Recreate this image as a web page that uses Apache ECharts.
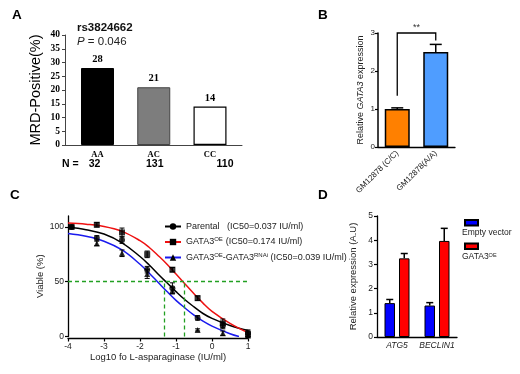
<!DOCTYPE html>
<html>
<head>
<meta charset="utf-8">
<script src="https://cdn.jsdelivr.net/npm/echarts@6/dist/echarts.min.js"></script>
<style>
html, body { margin: 0; padding: 0; background: #fff; }
#fig { width: 520px; height: 374px; }
</style>
</head>
<body>
<div id="fig"></div>
<script>
// A - MRD positive rate per rs3824662 genotype
var genotypes = ['AA', 'AC', 'CC'];
var genotypeN = ['32', '131', '110'];
var mrdPositive = [28, 21, 14];

// B - GATA3 expression in GM12878
var cellLines = ['GM12878 (C/C)', 'GM12878(A/A)'];
var gata3Expr = [1.0, 2.5];
var gata3Err = [0.03, 0.2];
var bracketY = [1.35, 3.0, 2.8]; // left foot, top, right foot

// C - viability vs log10 L-asparaginase
var doseX = [-3.9, -3.2, -2.5, -1.8, -1.1, -0.4, 0.3, 1.0];
var parentalPts = [100, 90, 88, 61, 44, 17, 10, 3];
var parentalErr = [1, 2, 3, 3, 5, 2, 3, 3];
var oePts = [100, 102, 95, 75, 61, 35, 12, 2];
var oeErr = [1, 2, 4, 3, 2, 2, 4, 3];
var rnaiPts = [null, 85, 76, 57, 42, 6, 3, 1];
var rnaiErr = [0, 2, 3, 4, 3, 1, 2, 1];

var fitX = [-4, -3.5, -3, -2.5, -2, -1.75, -1.5, -1.25, -1, -0.75, -0.5, -0.25, 0, 0.5, 1];
var parentalFit = [100, 97.5, 93.5, 85.5, 73, 65.5, 57, 49, 41, 33.5, 27, 21, 16.5, 10, 5.5];
var oeFit = [103.5, 102.5, 100.5, 96, 87.5, 81.5, 74, 66, 57, 48, 39, 30.5, 23, 12, 3.5];
var rnaiFitX = [-4, -3.5, -3, -2.5, -2, -1.75, -1.5, -1.25, -1, -0.75, -0.5, -0.25, 0, 0.5, 0.75];
var rnaiFit = [94, 91.5, 87, 79, 66, 58, 49.5, 41, 33, 26, 19.5, 14, 9.5, 2.5, 0];
var ic50X = [-1.33, -0.78];
var cTicks = [0, 50, 100];

// D - autophagy genes
var genes = ['ATG5', 'BECLIN1'];
var emptyVec = [1.4, 1.3];
var emptyErr = [0.15, 0.12];
var gata3OE = [3.25, 3.97];
var gata3OEErr = [0.2, 0.52];

var SANS = '"Liberation Sans", Arial, sans-serif';
var SERIF = '"Liberation Serif", "Times New Roman", serif';

function pairs(xs, ys, es) {
  var out = [];
  for (var i = 0; i < xs.length; i++) {
    if (ys[i] == null) continue;
    out.push(es ? [xs[i], ys[i], es[i]] : [xs[i], ys[i]]);
  }
  return out;
}

// error bar both ways, for the dose points
function renderDoseErr(params, api) {
  var x = api.value(0), y = api.value(1), e = api.value(2);
  var hi = api.coord([x, y + e]), lo = api.coord([x, y - e]);
  var cap = 2.5, st = {stroke: '#000', lineWidth: 1};
  return {type: 'group', children: [
    {type: 'line', shape: {x1: hi[0], y1: hi[1], x2: lo[0], y2: lo[1]}, style: st},
    {type: 'line', shape: {x1: hi[0] - cap, y1: hi[1], x2: hi[0] + cap, y2: hi[1]}, style: st},
    {type: 'line', shape: {x1: lo[0] - cap, y1: lo[1], x2: lo[0] + cap, y2: lo[1]}, style: st}
  ]};
}

// upper error bar only (prism style)
function barErr(dx, cap) {
  return function (params, api) {
    var i = api.value(0), v = api.value(1), e = api.value(2);
    var base = api.coord([i, v]), hi = api.coord([i, v + e]);
    var x = base[0] + dx;
    var st = {stroke: '#000', lineWidth: 1.5};
    return {type: 'group', children: [
      {type: 'line', shape: {x1: x, y1: base[1], x2: x, y2: hi[1]}, style: st},
      {type: 'line', shape: {x1: x - cap, y1: hi[1], x2: x + cap, y2: hi[1]}, style: st}
    ]};
  };
}

function renderBracket(params, api) {
  var p0 = api.coord([0, api.value(1)]), p1 = api.coord([0, api.value(2)]);
  var p2 = api.coord([1, api.value(2)]), p3 = api.coord([1, api.value(3)]);
  return {type: 'group', children: [
    {type: 'polyline', shape: {points: [p0, p1, p2, p3]}, style: {stroke: '#000', lineWidth: 1.3, fill: null}},
    {type: 'text', x: (p1[0] + p2[0]) / 2, y: p1[1] - 1,
      style: {text: '**', textAlign: 'center', textVerticalAlign: 'bottom', fontSize: 9, fontFamily: SANS, fill: '#333'}}
  ]};
}

var barColorsA = [
  {color: '#000', borderColor: '#000', borderWidth: 1},
  {color: '#7d7d7d', borderColor: '#444', borderWidth: 1},
  {color: '#fff', borderColor: '#000', borderWidth: 1.2}
];
var barColorsB = ['#ff8000', '#4f9dff'];

var BAR_W_D = 10.5, GAP_D = 4;
var offD = (BAR_W_D + GAP_D) / 2;

function richStyle(extra) {
  var s = {fontFamily: SANS, fontSize: 9, color: '#000'};
  for (var k in extra) s[k] = extra[k];
  return s;
}

var legendLabelsC = {
  'Parental': '{t|Parental}{v|(IC50=0.037 IU/ml)}',
  'GATA3OE': '{b|GATA3}{sup|OE}{gp|}{b|(IC50=0.174 IU/ml)}',
  'GATA3OE-GATA3RNAi': '{b|GATA3}{sup|OE}{b|-GATA3}{sup|RNAi}{b| (IC50=0.039 IU/ml)}'
};

var axisBlack = {onZero: false, lineStyle: {color: '#000', width: 1.3}};

var option = {
  animation: false,
  textStyle: {fontFamily: SANS},
  grid: [
    {left: 65, top: 35, width: 177, height: 110},
    {left: 378, top: 33, width: 77, height: 114},
    {left: 68, top: 216, width: 180, height: 120.5},
    {left: 377, top: 216, width: 80, height: 121}
  ],
  xAxis: [
    {
      gridIndex: 0, type: 'value', min: -0.578, max: 2.569,
      axisLine: {onZero: false, lineStyle: {color: '#444', width: 1}},
      axisTick: {show: false}, splitLine: {show: false},
      axisLabel: {
        customValues: [0, 1, 2], margin: 6,
        formatter: function (v) {
          var i = Math.round(v);
          return '{g|' + genotypes[i] + '}\n{n' + i + '|' + genotypeN[i] + '}';
        },
        rich: {
          g: {fontFamily: SERIF, fontWeight: 'bold', fontSize: 8.5, lineHeight: 8, color: '#000'},
          n0: {fontFamily: SANS, fontWeight: 'bold', fontSize: 10.5, lineHeight: 11, color: '#000', padding: [0, 6, 0, 0]},
          n1: {fontFamily: SANS, fontWeight: 'bold', fontSize: 10.5, lineHeight: 11, color: '#000', padding: [0, 0, 0, 2]},
          n2: {fontFamily: SANS, fontWeight: 'bold', fontSize: 10.5, lineHeight: 11, color: '#000', padding: [0, 0, 0, 30]}
        }
      }
    },
    {
      gridIndex: 1, type: 'category', data: cellLines,
      axisLine: axisBlack,
      axisTick: {alignWithLabel: true, length: 3, lineStyle: {color: '#000', width: 1.2}},
      axisLabel: {rotate: 45, interval: 0, fontSize: 8, color: '#222', margin: 5}
    },
    {
      gridIndex: 2, type: 'value', min: -4, max: 1, interval: 1, offset: 2,
      axisLine: axisBlack, splitLine: {show: false},
      axisTick: {length: 3, lineStyle: {color: '#000', width: 1.2}},
      axisLabel: {fontSize: 8.5, color: '#222', margin: 4},
      name: 'Log10 fo L-asparaginase (IU/ml)', nameLocation: 'middle', nameGap: 14,
      nameTextStyle: {fontSize: 9.5, color: '#222', fontFamily: SANS}
    },
    {
      gridIndex: 3, type: 'category', data: genes,
      axisLine: axisBlack, axisTick: {show: false},
      axisLabel: {interval: 0, fontSize: 8.5, fontStyle: 'italic', color: '#222', margin: 4}
    }
  ],
  yAxis: [
    {
      gridIndex: 0, type: 'value', min: 0, max: 40, interval: 5,
      axisLine: {show: true, onZero: false, lineStyle: {color: '#444', width: 1}},
      axisTick: {show: true, length: 3, lineStyle: {color: '#444'}},
      splitLine: {show: false},
      axisLabel: {fontFamily: SERIF, fontWeight: 'bold', fontSize: 9.5, color: '#000', margin: 5},
      name: 'MRD-Positive(%)', nameLocation: 'middle', nameGap: 22,
      nameTextStyle: {fontSize: 14.5, color: '#000', fontFamily: SANS}
    },
    {
      gridIndex: 1, type: 'value', min: 0, max: 3, interval: 1,
      axisLine: {show: true, onZero: false, lineStyle: {color: '#000', width: 1.5}},
      axisTick: {show: true, length: 3, lineStyle: {color: '#000', width: 1.2}},
      splitLine: {show: false},
      axisLabel: {fontSize: 8, color: '#222', margin: 3},
      name: 'Relative {i|GATA3} expression', nameLocation: 'middle', nameGap: 13,
      nameTextStyle: {fontSize: 9, color: '#222', fontFamily: SANS,
        rich: {i: richStyle({fontStyle: 'italic', color: '#222'})}}
    },
    {
      gridIndex: 2, type: 'value', min: 0, max: 110,
      axisLine: {show: true, onZero: false, lineStyle: {color: '#000', width: 1.3}},
      axisTick: {show: true, length: 3, customValues: cTicks, lineStyle: {color: '#000', width: 1.2}},
      splitLine: {show: false},
      axisLabel: {fontSize: 8.5, color: '#222', margin: 4, customValues: cTicks},
      name: 'Viable (%)', nameLocation: 'middle', nameGap: 23,
      nameTextStyle: {fontSize: 9.5, color: '#222', fontFamily: SANS}
    },
    {
      gridIndex: 3, type: 'value', min: 0, max: 5, interval: 1,
      axisLine: {show: true, onZero: false, lineStyle: {color: '#000', width: 1.3}},
      axisTick: {show: true, length: 3, lineStyle: {color: '#000', width: 1.2}},
      splitLine: {show: false},
      axisLabel: {fontSize: 8.5, color: '#222', margin: 4},
      name: 'Relative expression (A.U)', nameLocation: 'middle', nameGap: 19,
      nameTextStyle: {fontSize: 9.5, color: '#222', fontFamily: SANS}
    }
  ],
  legend: [
    {
      data: ['Parental', 'GATA3OE', 'GATA3OE-GATA3RNAi'],
      orient: 'vertical', left: 164, top: 221, padding: 0,
      itemWidth: 16, itemHeight: 8, itemGap: 4.5,
      selectedMode: false,
      itemStyle: {color: '#000', borderWidth: 0},
      formatter: function (name) { return legendLabelsC[name]; },
      textStyle: {
        fontFamily: SANS, fontSize: 9, color: '#222', lineHeight: 11,
        rich: {
          t: richStyle({width: 41, color: '#222'}),
          v: richStyle({color: '#222'}),
          b: richStyle({color: '#222'}),
          gp: richStyle({width: 3}),
          sup: richStyle({fontSize: 6, verticalAlign: 'top', lineHeight: 7, color: '#222'})
        }
      }
    },
    {
      data: ['Empty vector'], left: 464, top: 219, padding: 0, icon: 'rect',
      itemWidth: 13, itemHeight: 5.5, selectedMode: false,
      formatter: function () { return ''; }
    },
    {
      data: ['GATA3OE overexpression'], left: 464, top: 242.5, padding: 0, icon: 'rect',
      itemWidth: 13, itemHeight: 5.5, selectedMode: false,
      formatter: function () { return ''; }
    }
  ],
  graphic: [
    {type: 'text', x: 12, y: 15.5, style: {text: 'A', fontSize: 13.5, fontWeight: 'bold', fontFamily: SANS, fill: '#000', textVerticalAlign: 'middle'}},
    {type: 'text', x: 318, y: 15, style: {text: 'B', fontSize: 13.5, fontWeight: 'bold', fontFamily: SANS, fill: '#000', textVerticalAlign: 'middle'}},
    {type: 'text', x: 10, y: 195.5, style: {text: 'C', fontSize: 13.5, fontWeight: 'bold', fontFamily: SANS, fill: '#000', textVerticalAlign: 'middle'}},
    {type: 'text', x: 318, y: 195.5, style: {text: 'D', fontSize: 13.5, fontWeight: 'bold', fontFamily: SANS, fill: '#000', textVerticalAlign: 'middle'}},
    {type: 'text', x: 77, y: 27.5, style: {text: 'rs3824662', fontSize: 11.5, fontWeight: 'bold', fontFamily: SANS, fill: '#111', textVerticalAlign: 'middle'}},
    {type: 'text', x: 77, y: 41.5, style: {
      text: '{i|P} = 0.046', fontSize: 11.5, fontFamily: SANS, fill: '#222', textVerticalAlign: 'middle',
      rich: {i: {fontStyle: 'italic', fontSize: 11.5, fontFamily: SANS, fill: '#222'}}}},
    {type: 'text', x: 62, y: 164.5, style: {text: 'N =', fontSize: 10.5, fontWeight: 'bold', fontFamily: SANS, fill: '#000', textVerticalAlign: 'middle'}},
    {type: 'text', x: 462, y: 233, style: {text: 'Empty vector', fontSize: 8.5, fontFamily: SANS, fill: '#222', textVerticalAlign: 'middle'}},
    {type: 'text', x: 462, y: 257, style: {
      text: 'GATA3{sup|OE}', fontSize: 8.5, fontFamily: SANS, fill: '#222', textVerticalAlign: 'middle',
      rich: {sup: {fontSize: 5.5, fontFamily: SANS, fill: '#222', verticalAlign: 'top', lineHeight: 6}}}}
  ],
  series: [
    // A
    {
      type: 'bar', xAxisIndex: 0, yAxisIndex: 0, barWidth: 33,
      data: mrdPositive.map(function (v, i) { return {value: [i, v], itemStyle: barColorsA[i]}; }),
      label: {
        show: true, position: 'top', distance: 3,
        fontFamily: SERIF, fontWeight: 'bold', fontSize: 10.5, color: '#000',
        formatter: function (p) { return p.value[1]; }
      }
    },
    // B
    {
      type: 'bar', xAxisIndex: 1, yAxisIndex: 1, barWidth: 25,
      data: gata3Expr.map(function (v, i) {
        return {value: v, itemStyle: {color: barColorsB[i], borderColor: '#000', borderWidth: 1.5}};
      })
    },
    {
      type: 'custom', xAxisIndex: 1, yAxisIndex: 1, renderItem: barErr(0, 6),
      encode: {x: 0, y: 1},
      data: gata3Expr.map(function (v, i) { return [i, v, gata3Err[i]]; })
    },
    {
      type: 'custom', xAxisIndex: 1, yAxisIndex: 1, renderItem: renderBracket,
      encode: {x: 0, y: [1, 2, 3]},
      data: [[0, bracketY[0], bracketY[1], bracketY[2]]]
    },
    // C fitted curves
    {
      name: 'Parental', type: 'line', xAxisIndex: 2, yAxisIndex: 2,
      data: pairs(fitX, parentalFit), smooth: 0.4, showSymbol: false, symbol: 'circle',
      lineStyle: {color: '#000', width: 1.5}, itemStyle: {color: '#000'}, z: 3,
      markLine: {
        silent: true, symbol: 'none', label: {show: false},
        lineStyle: {color: '#22a022', type: [4, 3], width: 1.3},
        data: [
          [{coord: [-4, 50]}, {coord: [1, 50]}],
          [{coord: [ic50X[0], 0]}, {coord: [ic50X[0], 50]}],
          [{coord: [ic50X[1], 0]}, {coord: [ic50X[1], 50]}]
        ]
      }
    },
    {
      name: 'GATA3OE', type: 'line', xAxisIndex: 2, yAxisIndex: 2,
      data: pairs(fitX, oeFit), smooth: 0.4, showSymbol: false, symbol: 'rect',
      lineStyle: {color: '#ee1111', width: 1.5}, itemStyle: {color: '#000'}, z: 3
    },
    {
      name: 'GATA3OE-GATA3RNAi', type: 'line', xAxisIndex: 2, yAxisIndex: 2,
      data: pairs(rnaiFitX, rnaiFit), smooth: 0.4, showSymbol: false, symbol: 'triangle',
      lineStyle: {color: '#1a1aee', width: 1.5}, itemStyle: {color: '#000'}, z: 3
    },
    // C measured points
    {type: 'scatter', xAxisIndex: 2, yAxisIndex: 2, symbol: 'circle', symbolSize: 6, itemStyle: {color: '#000'}, z: 4, data: pairs(doseX, parentalPts)},
    {type: 'scatter', xAxisIndex: 2, yAxisIndex: 2, symbol: 'rect', symbolSize: 6, itemStyle: {color: '#000'}, z: 4, data: pairs(doseX, oePts)},
    {type: 'scatter', xAxisIndex: 2, yAxisIndex: 2, symbol: 'triangle', symbolSize: 6, itemStyle: {color: '#000'}, z: 4, data: pairs(doseX, rnaiPts)},
    {type: 'custom', xAxisIndex: 2, yAxisIndex: 2, renderItem: renderDoseErr, encode: {x: 0, y: 1}, z: 4, data: pairs(doseX, parentalPts, parentalErr)},
    {type: 'custom', xAxisIndex: 2, yAxisIndex: 2, renderItem: renderDoseErr, encode: {x: 0, y: 1}, z: 4, data: pairs(doseX, oePts, oeErr)},
    {type: 'custom', xAxisIndex: 2, yAxisIndex: 2, renderItem: renderDoseErr, encode: {x: 0, y: 1}, z: 4, data: pairs(doseX, rnaiPts, rnaiErr)},
    // D
    {
      name: 'Empty vector', type: 'bar', xAxisIndex: 3, yAxisIndex: 3,
      barWidth: BAR_W_D, barGap: (GAP_D / BAR_W_D * 100) + '%',
      itemStyle: {color: '#0000ff', borderColor: '#000', borderWidth: 1},
      data: emptyVec
    },
    {
      name: 'GATA3OE overexpression', type: 'bar', xAxisIndex: 3, yAxisIndex: 3,
      barWidth: BAR_W_D,
      itemStyle: {color: '#ff0000', borderColor: '#000', borderWidth: 1},
      data: gata3OE
    },
    {
      type: 'custom', xAxisIndex: 3, yAxisIndex: 3, renderItem: barErr(-offD, 3.5), encode: {x: 0, y: 1},
      data: emptyVec.map(function (v, i) { return [i, v, emptyErr[i]]; })
    },
    {
      type: 'custom', xAxisIndex: 3, yAxisIndex: 3, renderItem: barErr(offD, 3.5), encode: {x: 0, y: 1},
      data: gata3OE.map(function (v, i) { return [i, v, gata3OEErr[i]]; })
    }
  ]
};

var chart = echarts.init(document.getElementById('fig'));
chart.setOption(option);
</script>
</body>
</html>
